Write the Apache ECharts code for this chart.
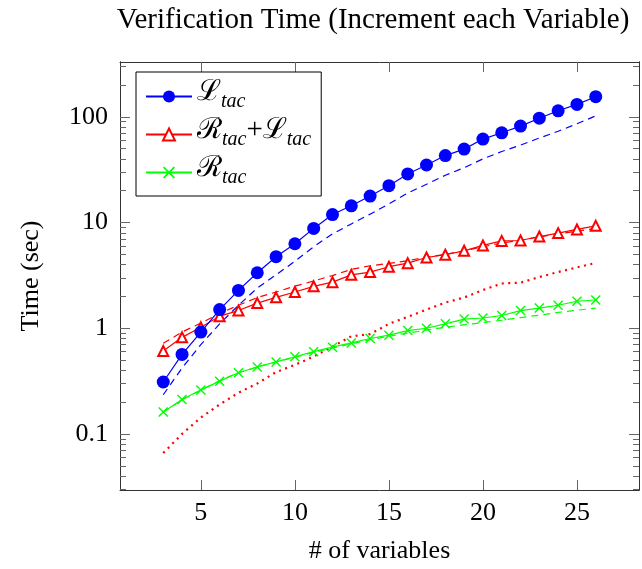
<!DOCTYPE html>
<html>
<head>
<meta charset="utf-8">
<script src="https://cdn.jsdelivr.net/npm/echarts@6/dist/echarts.min.js"></script>
<style>
  html, body { margin: 0; padding: 0; background: #fff; }
  #chart { width: 642px; height: 569px; }
</style>
</head>
<body>
<div id="chart"></div>
<script>
// x values (# of variables)
const numVars = [3, 4, 5, 6, 7, 8, 9, 10, 11, 12, 13, 14, 15, 16, 17, 18, 19, 20, 21, 22, 23, 24, 25, 26];

// L_tac
const lTac = [0.31, 0.565, 0.92, 1.5, 2.28, 3.35, 4.75, 6.3, 8.8, 11.9, 14.4, 17.8, 22.3, 28.8, 35, 43, 49.5, 61.6, 70.6, 81.7, 97, 114, 131, 155];
const lTacDashed = [0.235, 0.42, 0.7, 1.1, 1.65, 2.4, 3.2, 4.3, 5.9, 7.8, 9.7, 12.0, 15.0, 19, 23, 28, 33, 40, 47, 54, 63, 73, 86, 102];

// R_tac + L_tac
const rlTac = [0.61, 0.82, 1.02, 1.3, 1.47, 1.73, 1.96, 2.2, 2.49, 2.73, 3.2, 3.4, 3.82, 4.13, 4.67, 4.96, 5.4, 6.07, 6.7, 6.76, 7.38, 7.94, 8.6, 9.3];
const rlTacDashed = [0.72, 0.92, 1.12, 1.38, 1.65, 1.95, 2.2, 2.5, 2.8, 3.15, 3.6, 3.9, 4.1, 4.35, 4.7, 5.0, 5.4, 5.9, 6.4, 6.8, 7.3, 7.8, 8.3, 8.8];
const rlTacDotted = [0.066, 0.1, 0.143, 0.19, 0.245, 0.3, 0.385, 0.45, 0.54, 0.67, 0.84, 0.88, 1.1, 1.28, 1.5, 1.75, 1.95, 2.3, 2.65, 2.7, 3.05, 3.4, 3.76, 4.15];

// R_tac
const rTac = [0.161, 0.212, 0.26, 0.316, 0.379, 0.43, 0.48, 0.537, 0.6, 0.662, 0.727, 0.8, 0.86, 0.95, 1.0, 1.1, 1.22, 1.25, 1.32, 1.47, 1.55, 1.65, 1.8, 1.85];
const rTacDashed = [0.16, 0.21, 0.26, 0.32, 0.38, 0.43, 0.48, 0.53, 0.59, 0.65, 0.71, 0.78, 0.84, 0.9, 0.96, 1.02, 1.08, 1.13, 1.19, 1.26, 1.33, 1.41, 1.48, 1.55];

// ticks
const xTicks = [5, 10, 15, 20, 25];
const yTicks = [0.1, 1, 10, 100];
const yMinorTicks = [0.03, 0.04, 0.05, 0.06, 0.07, 0.08, 0.09,
  0.2, 0.3, 0.4, 0.5, 0.6, 0.7, 0.8, 0.9,
  2, 3, 4, 5, 6, 7, 8, 9,
  20, 30, 40, 50, 60, 70, 80, 90,
  200, 300];

const FONT = "'Liberation Serif', 'DejaVu Serif', serif";
const pairs = arr => numVars.map((v, i) => [v, arr[i]]);
const xMark = 'path://M0,1L1,0L5,4L9,0L10,1L6,5L10,9L9,10L5,6L1,10L0,9L4,5Z';

const frame = { show: true, onZero: false, lineStyle: { color: '#333', width: 1 } };
const X_MIN = 0.7, X_MAX = 28.3, Y_MIN = 0.0295, Y_MAX = 330;

function xAx(pos, labels) {
  return {
    type: 'value', position: pos, min: X_MIN, max: X_MAX,
    axisLine: frame, splitLine: { show: false },
    axisTick: { inside: true, length: 10, customValues: xTicks, lineStyle: { color: '#666' } },
    axisLabel: labels
      ? { customValues: xTicks, fontFamily: FONT, fontSize: 26, color: '#000', margin: 10 }
      : { show: false },
    name: labels ? '# of variables' : '',
    nameLocation: 'middle', nameGap: 48,
    nameTextStyle: { fontFamily: FONT, fontSize: 26, color: '#000' }
  };
}
function yAx(pos, ticks, len, labels) {
  return {
    type: 'log', logBase: 10, position: pos, min: Y_MIN, max: Y_MAX,
    axisLine: frame, splitLine: { show: false },
    axisTick: { inside: true, length: len, customValues: ticks, lineStyle: { color: '#666' } },
    axisLabel: labels
      ? { customValues: yTicks, fontFamily: FONT, fontSize: 26, color: '#000', margin: 12,
          formatter: v => (v >= 1 ? String(Math.round(v)) : String(+v.toPrecision(1))) }
      : { show: false },
    name: labels ? 'Time (sec)' : '',
    nameLocation: 'middle', nameGap: 76, nameRotate: 90,
    nameTextStyle: { fontFamily: FONT, fontSize: 26, color: '#000' }
  };
}

const legendText = {
  L: '{m|ℒ}{s|tac}',
  RL: '{m|ℛ}{s|tac}{m|+ℒ}{s|tac}',
  R: '{m|ℛ}{s|tac}'
};

const chart = echarts.init(document.getElementById('chart'), null, { renderer: 'canvas' });
chart.setOption({
  animation: false,
  backgroundColor: '#fff',
  title: {
    text: 'Verification Time (Increment each Variable)',
    left: 368, top: 1, textAlign: 'center',
    textStyle: { fontFamily: FONT, fontSize: 29, fontWeight: 'normal', color: '#000' }
  },
  grid: { left: 120, right: 3, top: 62, bottom: 79, outerBoundsMode: 'none' },
  xAxis: [xAx('bottom', true), xAx('top', false)],
  yAxis: [
    yAx('left', yTicks, 10, true),
    yAx('left', yMinorTicks, 6, false),
    yAx('right', yTicks, 10, false),
    yAx('right', yMinorTicks, 6, false)
  ],
  legend: {
    data: ['L', 'RL', 'R'],
    orient: 'vertical', left: 136, top: 72,
    padding: [6, 10, 8, 9], itemGap: 4,
    itemWidth: 46, itemHeight: 15,
    borderColor: '#000', borderWidth: 1, backgroundColor: '#fff',
    formatter: name => legendText[name],
    textStyle: {
      rich: {
        m: { fontFamily: FONT, fontSize: 29, lineHeight: 31, color: '#000', verticalAlign: 'bottom', padding: [0, 0, 5, 0] },
        s: { fontFamily: FONT, fontSize: 20, lineHeight: 24, fontStyle: 'italic', color: '#000', verticalAlign: 'bottom' }
      }
    }
  },
  series: [
    { name: 'L', type: 'line', data: pairs(lTac), symbol: 'circle', symbolSize: 13,
      itemStyle: { color: '#0000ff' }, lineStyle: { color: '#0000ff', width: 1.2 }, z: 5 },
    { name: 'Ld', type: 'line', data: pairs(lTacDashed), symbol: 'none',
      lineStyle: { color: '#0000ff', width: 1.2, type: [7, 5] } },
    { name: 'RL', type: 'line', data: pairs(rlTac), symbol: 'emptyTriangle', symbolSize: 10,
      itemStyle: { color: '#ff0000', borderWidth: 1.3 }, lineStyle: { color: '#ff0000', width: 1.2 }, z: 4 },
    { name: 'RLd', type: 'line', data: pairs(rlTacDashed), symbol: 'none',
      lineStyle: { color: '#ff0000', width: 1.2, type: [7, 5] } },
    { name: 'RLdot', type: 'line', data: pairs(rlTacDotted), symbol: 'none',
      lineStyle: { color: '#ff0000', width: 2.2, type: [2, 4.5] } },
    { name: 'R', type: 'line', data: pairs(rTac), symbol: xMark, symbolSize: 10,
      itemStyle: { color: '#00ff00' }, lineStyle: { color: '#00ff00', width: 1.2 }, z: 4 },
    { name: 'Rd', type: 'line', data: pairs(rTacDashed), symbol: 'none',
      lineStyle: { color: '#00ff00', width: 1.2, type: [7, 5] } }
  ]
});
</script>
</body>
</html>
